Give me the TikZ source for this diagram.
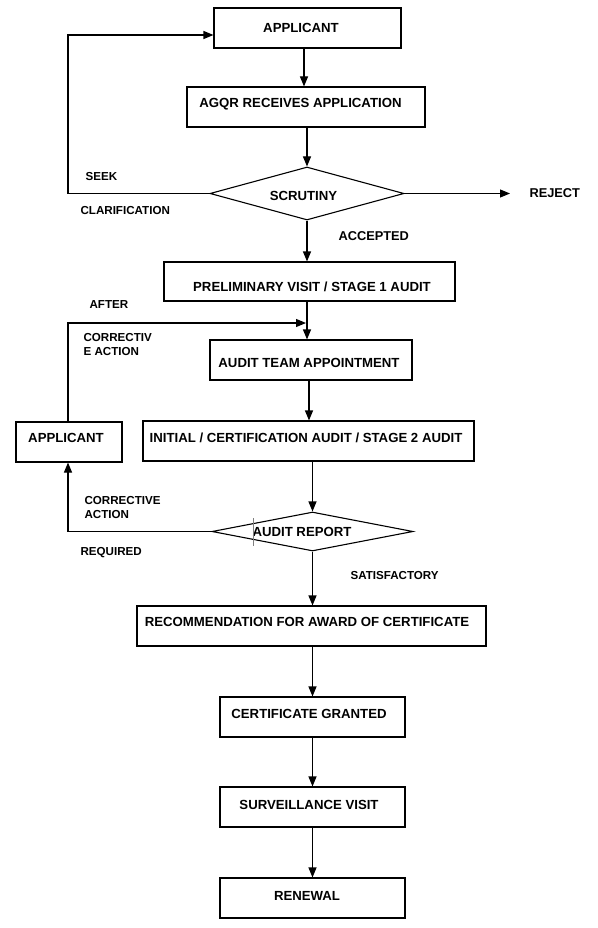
\documentclass[tikz,border=0pt]{standalone}
\usepackage{fontspec}
\setmainfont{Liberation Sans}
\usetikzlibrary{arrows.meta,shapes.geometric,calc}
\begin{document}
\begin{tikzpicture}[x=1pt,y=-1pt,
  line width=1.1pt,
  box/.style={draw,rectangle,inner sep=0pt},
  dia/.style={draw,diamond,inner sep=0pt},
  btxt/.style={inner sep=0pt,font=\fontsize{13.2}{15}\selectfont\bfseries},
  lbl/.style={inner sep=0pt,anchor=west,align=left,font=\fontsize{11.6}{14}\selectfont\bfseries},
  lblb/.style={inner sep=0pt,anchor=west,font=\fontsize{12.8}{15}\selectfont\bfseries},
  arr/.style={-{Triangle[length=10pt,width=8pt]}}]
\useasboundingbox (0,0) rectangle (597,928);
\fill[white] (0,0) rectangle (597,928);

% boxes
\node[box,minimum width=187pt,minimum height=40pt] (app) at (307.5,28) {};
\node[box,minimum width=238pt,minimum height=40pt] (agqr) at (306,107) {};
\node[dia,minimum width=194pt,minimum height=53pt] (scr) at (307,193.5) {};
\node[box,minimum width=291pt,minimum height=39pt] (pre) at (309.5,281.5) {};
\node[box,minimum width=202pt,minimum height=40pt] (team) at (311,360) {};
\node[box,minimum width=331pt,minimum height=40pt] (ini) at (308.5,441) {};
\node[box,minimum width=106pt,minimum height=40pt] (lapp) at (69,442) {};
\node[dia,minimum width=201pt,minimum height=39pt] (aud) at (312.5,531.5) {};
\node[box,minimum width=349pt,minimum height=40pt] (rec) at (311.5,626) {};
\node[box,minimum width=185pt,minimum height=40pt] (cert) at (312.5,717) {};
\node[box,minimum width=185pt,minimum height=40pt] (surv) at (312.5,807) {};
\node[box,minimum width=185pt,minimum height=40pt] (ren) at (312.5,898) {};

% box texts
\node[btxt] (tapp) at (301,28) {APPLICANT};
\node[btxt] (tagqr) at (300.5,104) {AGQR RECEIVES APPLICATION};
\node[btxt] (tscr) at (303.5,196) {SCRUTINY};
\node[btxt] (tpre) at (312,287) {PRELIMINARY VISIT / STAGE 1 AUDIT};
\node[btxt] (tteam) at (309,363) {AUDIT TEAM APPOINTMENT};
\node[btxt] (tini) at (306,438) {INITIAL / CERTIFICATION AUDIT / STAGE 2 AUDIT};
\node[btxt] (tlapp) at (66,438) {APPLICANT};
\node[btxt] (taud) at (302,532) {AUDIT REPORT};
\node[btxt] (trec) at (307,622) {RECOMMENDATION FOR AWARD OF CERTIFICATE};
\node[btxt] (tcert) at (309,714) {CERTIFICATE GRANTED};
\node[btxt] (tsurv) at (309,805) {SURVEILLANCE VISIT};
\node[btxt] (tren) at (307,896) {RENEWAL};

% small artifact line in audit report diamond
\draw[line width=0.5pt,gray] (253,518) -- (253,546);

% labels
\node[lbl] (lseek) at (85,177) {SEEK};
\node[lbl] (lclar) at (80,211) {CLARIFICATION};
\node[lblb] (lacc) at (338,236) {ACCEPTED};
\node[lblb] (lrej) at (529,193) {REJECT};
\node[lbl] (lafter) at (89,305) {AFTER};
\node[lbl] (lca1) at (83,345) {CORRECTIV\\E ACTION};
\node[lbl] (lca2) at (84,508) {CORRECTIVE\\ACTION};
\node[lbl] (lreq) at (80,553) {REQUIRED};
\node[lbl] (lsat) at (350,576) {SATISFACTORY};

% coordinates
\coordinate (rej) at (510,193.5);
\coordinate (j1) at (306,323);

% vertical connectors
\draw[arr] (app.south -| 304,0) -- (agqr.north -| 304,0);
\draw[arr] (agqr.south -| scr.north) -- (scr.north);
\draw[arr] (scr.south) -- (pre.north -| scr.south);
\draw[arr] (pre.south -| 307,0) -- (team.north -| 307,0);
\draw[arr] (team.south -| 309,0) -- (ini.north -| 309,0);
\draw[arr] (ini.south -| aud.north) -- (aud.north);
\draw[arr] (aud.south) -- (rec.north -| aud.south);
\draw[arr] (rec.south -| cert.north) -- (cert.north);
\draw[arr] (cert.south) -- (surv.north);
\draw[arr] (surv.south) -- (ren.north);

% side connectors
\draw[arr] (scr.west) -- (68,193.5) |- ([yshift=-7pt]app.west);
\draw[arr] (scr.east) -- (rej);
\draw[arr] (lapp.north -| 68,0) |- (j1);
\draw[arr] (aud.west) -| (lapp.south -| 68,0);
\end{tikzpicture}
\end{document}
